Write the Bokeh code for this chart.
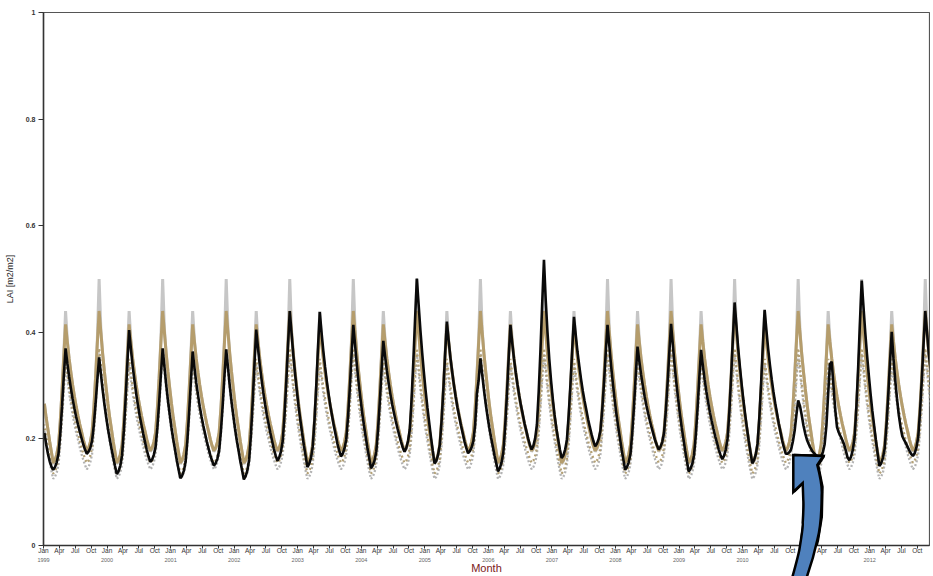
from urllib.parse import quote
from bokeh.plotting import figure
from bokeh.models import Range1d, FixedTicker, LinearAxis, PolyAnnotation, InlineStyleSheet
from bokeh.embed import file_html
from bokeh.resources import INLINE

# ---------------- data ----------------
years = list(range(1999, 2013))
month_tick_names = ["Jan", "Apr", "Jul", "Oct"]
y_ticks = [0, 0.2, 0.4, 0.6, 0.8, 1]
y_tick_labels = ["0", "0.2", "0.4", "0.6", "0.8", "1"]

# climatologies (36 dekads per year, identical every year in the chart)
clim_gray = [.266, .240, .218, .195, .175, .153, .158, .170, .188, .233, .292, .360,
             .440, .385, .351, .325, .301, .280, .261, .244, .228, .214, .199, .187,
             .176, .181, .193, .212, .258, .318, .387, .500, .405, .360, .326, .295]
clim_tan = [.266, .240, .218, .195, .175, .155, .160, .171, .189, .233, .290, .355,
            .415, .382, .351, .325, .301, .280, .261, .244, .228, .214, .199, .187,
            .178, .183, .194, .212, .257, .314, .380, .440, .400, .360, .326, .295]
dots_gray = [.215, .195, .176, .157, .140, .125, .129, .137, .152, .188, .236, .290,
             .340, .312, .286, .265, .245, .228, .212, .199, .185, .172, .161, .151,
             .143, .147, .156, .171, .208, .255, .310, .360, .326, .293, .265, .239]
dots_tan = [.227, .206, .187, .168, .151, .135, .139, .148, .163, .200, .247, .301,
            .350, .323, .297, .276, .256, .239, .223, .210, .196, .184, .173, .163,
            .155, .159, .168, .183, .220, .267, .321, .370, .337, .304, .276, .250]

# actual LAI, one list per year (36 dekads)
lai_1999 = [.211, .190, .172, .158, .148, .142, .147, .156, .172, .210, .261, .318, .370,
            .342, .317, .295, .275, .257, .241, .227, .214, .202, .190, .180, .172,
            .176, .183, .196, .226, .266, .311, .353, .322, .292, .265, .241]
lai_2000 = [.219, .200, .182, .165, .149, .134, .139, .150, .169, .215, .274, .342, .404,
            .369, .337, .310, .285, .263, .243, .226, .209, .194, .179, .167, .157,
            .161, .170, .185, .221, .268, .321, .370, .336, .302, .272, .246]
lai_2001 = [.221, .199, .180, .160, .143, .126, .131, .140, .157, .197, .250, .309, .364,
            .334, .306, .283, .261, .242, .225, .210, .195, .182, .169, .159, .150,
            .154, .163, .178, .215, .263, .318, .368, .334, .300, .270, .244]
lai_2002 = [.219, .197, .178, .158, .141, .124, .130, .141, .161, .208, .270, .340, .405,
            .371, .339, .312, .287, .265, .245, .228, .211, .196, .181, .169, .159,
            .165, .176, .196, .243, .305, .375, .440, .399, .358, .323, .291]
lai_2003 = [.261, .235, .211, .188, .168, .147, .153, .164, .185, .234, .298, .371, .438,
            .400, .365, .335, .308, .284, .262, .243, .224, .208, .191, .178, .167,
            .172, .182, .199, .241, .295, .357, .414, .376, .339, .306, .277]
lai_2004 = [.250, .226, .204, .183, .164, .145, .150, .159, .176, .217, .269, .329, .384,
            .355, .328, .305, .284, .265, .249, .234, .220, .207, .195, .184, .176,
            .183, .196, .218, .274, .345, .426, .501, .452, .404, .362, .324]
lai_2005 = [.289, .258, .230, .203, .178, .154, .159, .170, .189, .234, .292, .359, .420,
            .385, .353, .326, .301, .279, .259, .242, .225, .210, .195, .183, .173,
            .177, .184, .196, .226, .285, .310, .351, .321, .292, .266, .243]
lai_2006 = [.222, .203, .186, .169, .154, .139, .145, .156, .175, .222, .282, .351, .414,
            .381, .351, .325, .302, .281, .262, .246, .229, .215, .201, .189, .180,
            .187, .201, .226, .287, .365, .454, .536, .460, .400, .350, .310]
lai_2007 = [.275, .245, .220, .200, .180, .164, .169, .180, .198, .244, .302, .368, .429,
            .395, .363, .337, .312, .290, .271, .254, .237, .222, .208, .196, .186,
            .191, .200, .216, .254, .305, .362, .414, .376, .338, .305, .275]
lai_2008 = [.248, .224, .202, .180, .161, .142, .147, .156, .172, .211, .262, .320, .373,
            .346, .321, .300, .280, .263, .248, .234, .221, .209, .197, .188, .180,
            .185, .194, .211, .251, .303, .362, .416, .377, .338, .305, .275]
lai_2009 = [.247, .222, .200, .178, .158, .139, .144, .153, .169, .207, .258, .315, .367,
            .338, .312, .289, .269, .250, .234, .219, .205, .193, .180, .170, .162,
            .168, .180, .200, .250, .315, .388, .456, .414, .371, .335, .302]
lai_2010 = [.272, .245, .220, .196, .175, .154, .160, .171, .191, .240, .304, .376, .442,
            .404, .369, .339, .312, .288, .267, .248, .229, .213, .196, .183, .172,
            .172, .175, .180, .195, .215, .245, .272, .262, .245, .225, .210]
lai_2011 = [.198, .190, .183, .177, .173, .170, .167, .165, .167, .175, .190, .225, .285,
            .340, .345, .300, .255, .222, .212, .205, .198, .190, .178, .165, .160,
            .167, .180, .204, .261, .335, .419, .497, .448, .400, .358, .320]
lai_2012 = [.285, .253, .226, .198, .173, .149, .154, .164, .182, .225, .280, .343, .401,
            .350, .310, .275, .245, .222, .205, .198, .192, .185, .178, .172, .168,
            .173, .184, .203, .250, .309, .377, .440, .400, .360, .330, .300]

# annotation arrow outline (months since Jan 1999, LAI) - part inside the plot frame
arrow_x = [141.73, 147.39, 146.26, 147.09, 146.96, 146.26, 145.20, 143.94,
           141.29, 142.86, 143.50, 143.62, 143.50, 141.73]
arrow_y = [0.170, 0.168, 0.151, 0.110, 0.054, 0.011, -0.032, -0.070,
           -0.070, -0.008, 0.043, 0.086, 0.118, 0.101]
# same callout as a page-pixel overlay (box origin 780,445) so it also covers the axis area
callout_path = ("M13.3,10 L43.3,11 L37.3,20 Q42.5,40 41.7,50 Q41.5,80 37.3,95 "
                "Q33,115 25,137 L11,137 Q18,112 19.3,105 Q23.5,80 22.7,78 "
                "Q23.8,60 23.3,55 L22.7,38 L13.3,47 Z")

# ---------------- assemble ----------------
n_years = len(years)
x = [12 * yi + d // 3 + ((d % 3) + 0.5) / 3 for yi in range(n_years) for d in range(36)]
gray_line = clim_gray * n_years
tan_line = clim_tan * n_years
gray_dots = dots_gray * n_years
tan_dots = dots_tan * n_years
black = (lai_1999 + lai_2000 + lai_2001 + lai_2002 + lai_2003 + lai_2004 + lai_2005 +
         lai_2006 + lai_2007 + lai_2008 + lai_2009 + lai_2010 + lai_2011 + lai_2012)

FONT = "Liberation Sans"

svg = ("<svg xmlns='http://www.w3.org/2000/svg' width='60' height='140'>"
       f"<path d='{callout_path}' fill='#4f81bd' stroke='black' stroke-width='2.5' "
       "stroke-linejoin='miter'/></svg>")
css = (":host { position: relative; }\n"
       ":host::after { content: ''; position: absolute; left: 780px; top: 445px; "
       "width: 60px; height: 131px; pointer-events: none; z-index: 10; "
       "background-repeat: no-repeat; "
       f"background-image: url(\"data:image/svg+xml,{quote(svg)}\"); }}")

p = figure(width=930, height=576, output_backend="svg", toolbar_location=None,
           x_range=Range1d(0, 167.3), y_range=Range1d(0, 1),
           min_border_left=43, min_border_right=1, min_border_top=12, min_border_bottom=0)
p.stylesheets = [InlineStyleSheet(css=css)]
p.background_fill_color = "white"
p.border_fill_color = "white"
p.xgrid.visible = False
p.ygrid.visible = False
p.outline_line_color = "#555555"
p.outline_line_width = 1.2

p.line(x, gray_line, line_color="#c6c6c6", line_width=3)
p.line(x, tan_line, line_color="#b59d6c", line_width=3)
p.line(x, gray_dots, line_color="#b3b3b3", line_width=2.3, line_dash="2 2")
p.line(x, tan_dots, line_color="#b3a075", line_width=2.3, line_dash="2 3", line_dash_offset=1)
p.line(x, black, line_color="#0a0a0a", line_width=2.6)

# y axis
ya = p.yaxis[0]
ya.ticker = FixedTicker(ticks=y_ticks)
ya.major_label_overrides = {t: s for t, s in zip(y_ticks, y_tick_labels)}
ya.minor_tick_line_color = None
ya.major_tick_out = 5
ya.major_tick_in = 0
ya.major_label_standoff = 3
ya.major_label_text_font = FONT
ya.major_label_text_font_size = "7px"
ya.major_label_text_font_style = "bold"
ya.major_label_text_color = "#333333"
ya.axis_line_color = "#333333"
ya.axis_line_width = 1.5
ya.major_tick_line_color = "#333333"
ya.axis_label = "LAI [m2/m2]"
ya.axis_label_text_font = FONT
ya.axis_label_text_font_size = "9px"
ya.axis_label_text_font_style = "normal"
ya.axis_label_text_color = "#222222"
ya.axis_label_standoff = 8

# x axis (months)
month_ticks = list(range(0, 12 * n_years, 3))
xa = p.xaxis[0]
xa.ticker = FixedTicker(ticks=month_ticks)
xa.major_label_overrides = {t: month_tick_names[(t % 12) // 3] for t in month_ticks}
xa.minor_tick_line_color = None
xa.major_tick_out = 3
xa.major_tick_in = 0
xa.major_label_standoff = -2
xa.major_label_text_font = FONT
xa.major_label_text_font_size = "6.5px"
xa.major_label_text_color = "#333333"
xa.axis_line_color = "#333333"
xa.axis_line_width = 1.5
xa.major_tick_line_color = "#333333"

# second axis row: years + axis title
year_ticks = [12 * i for i in range(n_years)]
ya2 = LinearAxis(ticker=FixedTicker(ticks=year_ticks),
                 major_label_overrides={t: str(y) for t, y in zip(year_ticks, years)})
ya2.axis_line_color = None
ya2.major_tick_line_color = None
ya2.minor_tick_line_color = None
ya2.major_tick_out = 0
ya2.major_tick_in = 0
ya2.major_label_standoff = 1
ya2.major_label_text_font = FONT
ya2.major_label_text_font_size = "5.5px"
ya2.major_label_text_color = "#666666"
ya2.axis_label = "Month"
ya2.axis_label_standoff = -3
ya2.axis_label_text_font = FONT
ya2.axis_label_text_font_size = "11px"
ya2.axis_label_text_font_style = "normal"
ya2.axis_label_text_color = "#7b2020"
p.add_layout(ya2, "below")

# annotation: block arrow inside the frame
arrow = PolyAnnotation(xs=arrow_x, ys=arrow_y, fill_color="#4f81bd", fill_alpha=1.0,
                       line_color="black", line_alpha=1.0, line_width=2.5)
p.add_layout(arrow)

open("out.html", "w").write(file_html(p, INLINE))
